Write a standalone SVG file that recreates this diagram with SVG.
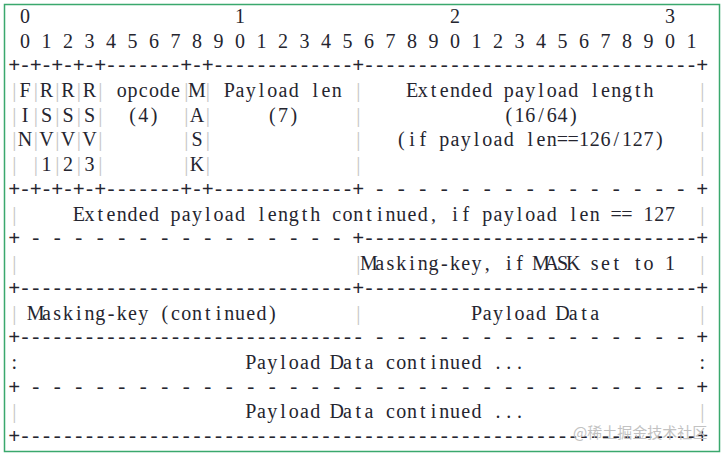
<svg xmlns="http://www.w3.org/2000/svg" width="725" height="456" viewBox="0 0 725 456">
<style>
.t{font-family:"Liberation Serif","DejaVu Serif",serif;font-size:20px;fill:#25252f;white-space:pre;text-anchor:middle}
.m{font-family:"Liberation Mono","DejaVu Sans Mono",monospace;font-size:20px;fill:#25252f;white-space:pre;text-anchor:middle}
.p{font-size:21px;fill:#c4c4c4}
.wm{font-family:"Noto Sans CJK SC","Noto Sans CJK JP",sans-serif;font-size:15px;fill:#c2c2c2}
</style>
<rect x="0" y="0" width="725" height="456" fill="#ffffff"/>
<rect x="4.5" y="4.5" width="715" height="447" fill="none" stroke="#3aa86d" stroke-width="1.5"/>
<g id="ruler">
<text class="t" y="23" x="14.25 25 35.75 46.5 57.25 68 78.75 89.5 100.25 111 121.75 132.5 143.25 154 164.75 175.5 186.25 197 207.75 218.5 229.25 240 250.75 261.5 272.25 283 293.75 304.5 315.25 326 336.75 347.5 358.25 369 379.75 390.5 401.25 412 422.75 433.5 444.25 455 465.75 476.5 487.25 498 508.75 519.5 530.25 541 551.75 562.5 573.25 584 594.75 605.5 616.25 627 637.75 648.5 659.25 670 680.75 691.5 702.25" xml:space="preserve"> 0                   1                   2                   3</text>
<text class="t" y="48" x="14.25 25 35.75 46.5 57.25 68 78.75 89.5 100.25 111 121.75 132.5 143.25 154 164.75 175.5 186.25 197 207.75 218.5 229.25 240 250.75 261.5 272.25 283 293.75 304.5 315.25 326 336.75 347.5 358.25 369 379.75 390.5 401.25 412 422.75 433.5 444.25 455 465.75 476.5 487.25 498 508.75 519.5 530.25 541 551.75 562.5 573.25 584 594.75 605.5 616.25 627 637.75 648.5 659.25 670 680.75 691.5 702.25" xml:space="preserve"> 0 1 2 3 4 5 6 7 8 9 0 1 2 3 4 5 6 7 8 9 0 1 2 3 4 5 6 7 8 9 0 1</text>
</g>
<g id="header">
<text class="m" y="72" x="14.25 25 35.75 46.5 57.25 68 78.75 89.5 100.25 111 121.75 132.5 143.25 154 164.75 175.5 186.25 197 207.75 218.5 229.25 240 250.75 261.5 272.25 283 293.75 304.5 315.25 326 336.75 347.5 358.25 369 379.75 390.5 401.25 412 422.75 433.5 444.25 455 465.75 476.5 487.25 498 508.75 519.5 530.25 541 551.75 562.5 573.25 584 594.75 605.5 616.25 627 637.75 648.5 659.25 670 680.75 691.5 702.25" xml:space="preserve">+-+-+-+-+-------+-+-------------+-------------------------------+</text>
<text class="t" y="97" x="14.25 25 35.75 46.5 57.25 68 78.75 89.5 100.25 111 121.75 132.5 143.25 154 164.75 175.5 186.25 197 207.75 218.5 229.25 240 250.75 261.5 272.25 283 293.75 304.5 315.25 326 336.75 347.5 358.25 369 379.75 390.5 401.25 412 422.75 433.5 444.25 455 465.75 476.5 487.25 498 508.75 519.5 530.25 541 551.75 562.5 573.25 584 594.75 605.5 616.25 627 637.75 648.5 659.25 670 680.75 691.5 702.25" xml:space="preserve"><tspan class="p">|</tspan>F<tspan class="p">|</tspan>R<tspan class="p">|</tspan>R<tspan class="p">|</tspan>R<tspan class="p">|</tspan> opcode<tspan class="p">|</tspan>M<tspan class="p">|</tspan> Payload len <tspan class="p">|</tspan>    Extended payload length    <tspan class="p">|</tspan></text>
<text class="t" y="122" x="14.25 25 35.75 46.5 57.25 68 78.75 89.5 100.25 111 121.75 132.5 143.25 154 164.75 175.5 186.25 197 207.75 218.5 229.25 240 250.75 261.5 272.25 283 293.75 304.5 315.25 326 336.75 347.5 358.25 369 379.75 390.5 401.25 412 422.75 433.5 444.25 455 465.75 476.5 487.25 498 508.75 519.5 530.25 541 551.75 562.5 573.25 584 594.75 605.5 616.25 627 637.75 648.5 659.25 670 680.75 691.5 702.25" xml:space="preserve"><tspan class="p">|</tspan>I<tspan class="p">|</tspan>S<tspan class="p">|</tspan>S<tspan class="p">|</tspan>S<tspan class="p">|</tspan>  (4)  <tspan class="p">|</tspan>A<tspan class="p">|</tspan>     (7)     <tspan class="p">|</tspan>             (16/64)           <tspan class="p">|</tspan></text>
<text class="t" y="146" x="14.25 25 35.75 46.5 57.25 68 78.75 89.5 100.25 111 121.75 132.5 143.25 154 164.75 175.5 186.25 197 207.75 218.5 229.25 240 250.75 261.5 272.25 283 293.75 304.5 315.25 326 336.75 347.5 358.25 369 379.75 390.5 401.25 412 422.75 433.5 444.25 455 465.75 476.5 487.25 498 508.75 519.5 530.25 541 551.75 562.5 573.25 584 594.75 605.5 616.25 627 637.75 648.5 659.25 670 680.75 691.5 702.25" xml:space="preserve"><tspan class="p">|</tspan>N<tspan class="p">|</tspan>V<tspan class="p">|</tspan>V<tspan class="p">|</tspan>V<tspan class="p">|</tspan>       <tspan class="p">|</tspan>S<tspan class="p">|</tspan>             <tspan class="p">|</tspan>   (if payload len==126/127)   <tspan class="p">|</tspan></text>
<text class="t" y="171" x="14.25 25 35.75 46.5 57.25 68 78.75 89.5 100.25 111 121.75 132.5 143.25 154 164.75 175.5 186.25 197 207.75 218.5 229.25 240 250.75 261.5 272.25 283 293.75 304.5 315.25 326 336.75 347.5 358.25 369 379.75 390.5 401.25 412 422.75 433.5 444.25 455 465.75 476.5 487.25 498 508.75 519.5 530.25 541 551.75 562.5 573.25 584 594.75 605.5 616.25 627 637.75 648.5 659.25 670 680.75 691.5 702.25" xml:space="preserve"><tspan class="p">|</tspan> <tspan class="p">|</tspan>1<tspan class="p">|</tspan>2<tspan class="p">|</tspan>3<tspan class="p">|</tspan>       <tspan class="p">|</tspan>K<tspan class="p">|</tspan>             <tspan class="p">|</tspan>                               <tspan class="p">|</tspan></text>
<text class="m" y="196" x="14.25 25 35.75 46.5 57.25 68 78.75 89.5 100.25 111 121.75 132.5 143.25 154 164.75 175.5 186.25 197 207.75 218.5 229.25 240 250.75 261.5 272.25 283 293.75 304.5 315.25 326 336.75 347.5 358.25 369 379.75 390.5 401.25 412 422.75 433.5 444.25 455 465.75 476.5 487.25 498 508.75 519.5 530.25 541 551.75 562.5 573.25 584 594.75 605.5 616.25 627 637.75 648.5 659.25 670 680.75 691.5 702.25" xml:space="preserve">+-+-+-+-+-------+-+-------------+ - - - - - - - - - - - - - - - +</text>
</g>
<g id="extended">
<text class="t" y="221" x="14.25 25 35.75 46.5 57.25 68 78.75 89.5 100.25 111 121.75 132.5 143.25 154 164.75 175.5 186.25 197 207.75 218.5 229.25 240 250.75 261.5 272.25 283 293.75 304.5 315.25 326 336.75 347.5 358.25 369 379.75 390.5 401.25 412 422.75 433.5 444.25 455 465.75 476.5 487.25 498 508.75 519.5 530.25 541 551.75 562.5 573.25 584 594.75 605.5 616.25 627 637.75 648.5 659.25 670 680.75 691.5 702.25" xml:space="preserve"><tspan class="p">|</tspan>     Extended payload length continued, if payload len == 127  <tspan class="p">|</tspan></text>
<text class="m" y="245" x="14.25 25 35.75 46.5 57.25 68 78.75 89.5 100.25 111 121.75 132.5 143.25 154 164.75 175.5 186.25 197 207.75 218.5 229.25 240 250.75 261.5 272.25 283 293.75 304.5 315.25 326 336.75 347.5 358.25 369 379.75 390.5 401.25 412 422.75 433.5 444.25 455 465.75 476.5 487.25 498 508.75 519.5 530.25 541 551.75 562.5 573.25 584 594.75 605.5 616.25 627 637.75 648.5 659.25 670 680.75 691.5 702.25" xml:space="preserve">+ - - - - - - - - - - - - - - - +-------------------------------+</text>
</g>
<g id="masking">
<text class="t" y="270" x="14.25 25 35.75 46.5 57.25 68 78.75 89.5 100.25 111 121.75 132.5 143.25 154 164.75 175.5 186.25 197 207.75 218.5 229.25 240 250.75 261.5 272.25 283 293.75 304.5 315.25 326 336.75 347.5 358.25 369 379.75 390.5 401.25 412 422.75 433.5 444.25 455 465.75 476.5 487.25 498 508.75 519.5 530.25 541 551.75 562.5 573.25 584 594.75 605.5 616.25 627 637.75 648.5 659.25 670 680.75 691.5 702.25" xml:space="preserve"><tspan class="p">|</tspan>                               <tspan class="p">|</tspan>Masking-key, if MASK set to 1  <tspan class="p">|</tspan></text>
<text class="m" y="295" x="14.25 25 35.75 46.5 57.25 68 78.75 89.5 100.25 111 121.75 132.5 143.25 154 164.75 175.5 186.25 197 207.75 218.5 229.25 240 250.75 261.5 272.25 283 293.75 304.5 315.25 326 336.75 347.5 358.25 369 379.75 390.5 401.25 412 422.75 433.5 444.25 455 465.75 476.5 487.25 498 508.75 519.5 530.25 541 551.75 562.5 573.25 584 594.75 605.5 616.25 627 637.75 648.5 659.25 670 680.75 691.5 702.25" xml:space="preserve">+-------------------------------+-------------------------------+</text>
<text class="t" y="320" x="14.25 25 35.75 46.5 57.25 68 78.75 89.5 100.25 111 121.75 132.5 143.25 154 164.75 175.5 186.25 197 207.75 218.5 229.25 240 250.75 261.5 272.25 283 293.75 304.5 315.25 326 336.75 347.5 358.25 369 379.75 390.5 401.25 412 422.75 433.5 444.25 455 465.75 476.5 487.25 498 508.75 519.5 530.25 541 551.75 562.5 573.25 584 594.75 605.5 616.25 627 637.75 648.5 659.25 670 680.75 691.5 702.25" xml:space="preserve"><tspan class="p">|</tspan> Masking-key (continued)       <tspan class="p">|</tspan>          Payload Data         <tspan class="p">|</tspan></text>
<text class="m" y="344" x="14.25 25 35.75 46.5 57.25 68 78.75 89.5 100.25 111 121.75 132.5 143.25 154 164.75 175.5 186.25 197 207.75 218.5 229.25 240 250.75 261.5 272.25 283 293.75 304.5 315.25 326 336.75 347.5 358.25 369 379.75 390.5 401.25 412 422.75 433.5 444.25 455 465.75 476.5 487.25 498 508.75 519.5 530.25 541 551.75 562.5 573.25 584 594.75 605.5 616.25 627 637.75 648.5 659.25 670 680.75 691.5 702.25" xml:space="preserve">+-------------------------------- - - - - - - - - - - - - - - - +</text>
</g>
<g id="payload">
<text class="t" y="369" x="14.25 25 35.75 46.5 57.25 68 78.75 89.5 100.25 111 121.75 132.5 143.25 154 164.75 175.5 186.25 197 207.75 218.5 229.25 240 250.75 261.5 272.25 283 293.75 304.5 315.25 326 336.75 347.5 358.25 369 379.75 390.5 401.25 412 422.75 433.5 444.25 455 465.75 476.5 487.25 498 508.75 519.5 530.25 541 551.75 562.5 573.25 584 594.75 605.5 616.25 627 637.75 648.5 659.25 670 680.75 691.5 702.25" xml:space="preserve">:                     Payload Data continued ...                :</text>
<text class="m" y="394" x="14.25 25 35.75 46.5 57.25 68 78.75 89.5 100.25 111 121.75 132.5 143.25 154 164.75 175.5 186.25 197 207.75 218.5 229.25 240 250.75 261.5 272.25 283 293.75 304.5 315.25 326 336.75 347.5 358.25 369 379.75 390.5 401.25 412 422.75 433.5 444.25 455 465.75 476.5 487.25 498 508.75 519.5 530.25 541 551.75 562.5 573.25 584 594.75 605.5 616.25 627 637.75 648.5 659.25 670 680.75 691.5 702.25" xml:space="preserve">+ - - - - - - - - - - - - - - - - - - - - - - - - - - - - - - - +</text>
<text class="t" y="418" x="14.25 25 35.75 46.5 57.25 68 78.75 89.5 100.25 111 121.75 132.5 143.25 154 164.75 175.5 186.25 197 207.75 218.5 229.25 240 250.75 261.5 272.25 283 293.75 304.5 315.25 326 336.75 347.5 358.25 369 379.75 390.5 401.25 412 422.75 433.5 444.25 455 465.75 476.5 487.25 498 508.75 519.5 530.25 541 551.75 562.5 573.25 584 594.75 605.5 616.25 627 637.75 648.5 659.25 670 680.75 691.5 702.25" xml:space="preserve"><tspan class="p">|</tspan>                     Payload Data continued ...                <tspan class="p">|</tspan></text>
<text class="m" y="443" x="14.25 25 35.75 46.5 57.25 68 78.75 89.5 100.25 111 121.75 132.5 143.25 154 164.75 175.5 186.25 197 207.75 218.5 229.25 240 250.75 261.5 272.25 283 293.75 304.5 315.25 326 336.75 347.5 358.25 369 379.75 390.5 401.25 412 422.75 433.5 444.25 455 465.75 476.5 487.25 498 508.75 519.5 530.25 541 551.75 562.5 573.25 584 594.75 605.5 616.25 627 637.75 648.5 659.25 670 680.75 691.5 702.25" xml:space="preserve">+---------------------------------------------------------------+</text>
</g>
<text class="wm" x="573" y="438">@稀土掘金技术社区</text>
</svg>
